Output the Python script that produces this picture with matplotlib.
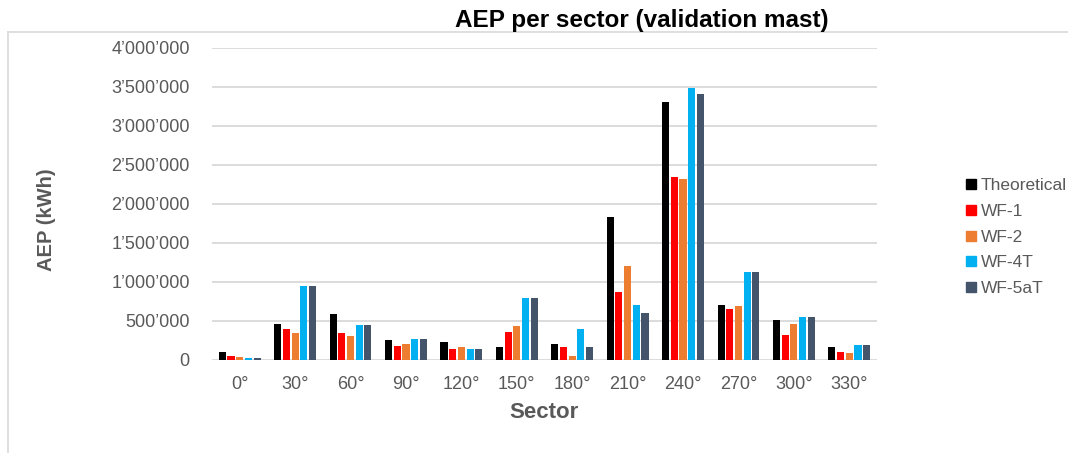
import numpy as np
import matplotlib
matplotlib.use("Agg")
import matplotlib.pyplot as plt
from matplotlib.lines import Line2D
from matplotlib.ticker import FuncFormatter

plt.rcParams['font.family'] = ['Liberation Sans', 'DejaVu Sans']

sectors = ["0°", "30°", "60°", "90°", "120°", "150°", "180°", "210°", "240°", "270°", "300°", "330°"]
series = ["Theoretical", "WF-1", "WF-2", "WF-4T", "WF-5aT"]

theoretical = [98000, 454000, 578000, 244000, 219000, 165000, 204000, 1825000, 3313000, 703000, 504000, 156000]
wf1 = [51000, 386000, 334000, 167000, 136000, 348000, 165000, 868000, 2346000, 651000, 312000, 91000]
wf2 = [33000, 342000, 303000, 193000, 158000, 434000, 40000, 1198000, 2317000, 686000, 452000, 78000]
wf4t = [21000, 945000, 441000, 265000, 129000, 790000, 390000, 699000, 3480000, 1129000, 543000, 182000]
wf5at = [21000, 945000, 441000, 265000, 129000, 790000, 156000, 599000, 3415000, 1129000, 543000, 182000]

colors = ["#000000", "#FF0000", "#ED7D31", "#00B0F0", "#44546A"]
grey = "#595959"

fig = plt.figure(figsize=(10.68, 4.53), dpi=100)
ax = fig.add_axes([212 / 1068, 1 - 359.5 / 453, 665 / 1068, 311.5 / 453])

x = np.arange(len(sectors))
pitch = 0.157
for i, (vals, c) in enumerate(zip([theoretical, wf1, wf2, wf4t, wf5at], colors)):
    ax.bar(x + (i - 2) * pitch, vals, width=0.128, color=c, zorder=3)

ax.set_xlim(-0.5, len(sectors) - 0.5)
ax.set_ylim(0, 4000000)
ax.set_yticks(np.arange(0, 4000001, 500000))
ax.yaxis.set_major_formatter(FuncFormatter(lambda v, p: f"{int(v):,}".replace(",", "\u2019")))
ax.set_xticks(x)
ax.set_xticklabels(sectors)
ax.tick_params(axis="both", length=0, labelsize=13, labelcolor=grey)
ax.tick_params(axis="x", pad=12)
ax.tick_params(axis="y", pad=16)
ax.grid(axis="y", color="#D9D9D9", linewidth=1.3, zorder=0)
for s in ax.spines.values():
    s.set_visible(False)

# axis titles placed in figure pixels
fig.text(46 / 1068, 1 - 220 / 453, "AEP (kWh)", rotation=90, ha="center", va="center",
         fontsize=14.5, fontweight="bold", color=grey)
fig.text(544 / 1068, 1 - 412 / 453, "Sector", ha="center", va="center",
         fontsize=16, fontweight="bold", color=grey)

fig.text(642 / 1068, 1 - 21 / 453, "AEP per sector (validation mast)",
         ha="center", va="center", fontsize=17.5, fontweight="bold", color="black")

# thin frame around the chart area
fig.add_artist(Line2D([8 / 1068, 1], [1 - 32 / 453] * 2, color="#D9D9D9", linewidth=1.2))
fig.add_artist(Line2D([8 / 1068] * 2, [0, 1 - 32 / 453], color="#D9D9D9", linewidth=1.2))

handles = [Line2D([], [], marker="s", linestyle="none", markersize=7, color=c) for c in colors]
leg = fig.legend(handles, series, loc="center left", bbox_to_anchor=(966 / 1068, 1 - 237 / 453),
                 frameon=False, fontsize=12.5, handlelength=0.6, handletextpad=0.25,
                 labelspacing=0.62, borderpad=0, borderaxespad=0)
for t in leg.get_texts():
    t.set_color(grey)

fig.savefig("out.png", dpi=100)
